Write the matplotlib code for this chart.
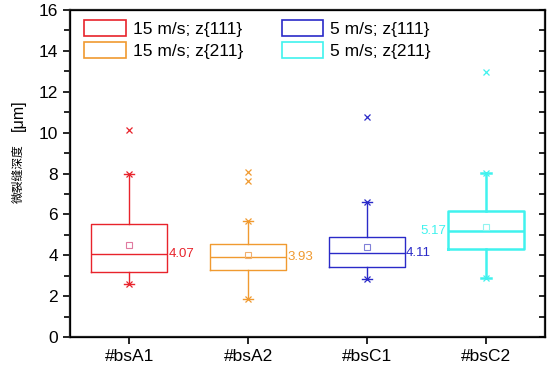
import matplotlib
matplotlib.use("Agg")
import matplotlib.pyplot as plt
from matplotlib.patches import Patch

plt.rcParams['font.family'] = ['Liberation Sans', 'DejaVu Sans']

categories = ['#bsA1', '#bsA2', '#bsC1', '#bsC2']
legend_labels = ['15 m/s; z{111}', '15 m/s; z{211}', '5 m/s; z{111}', '5 m/s; z{211}']
q1 = [3.16, 3.28, 3.41, 4.31]
medians = [4.07, 3.93, 4.11, 5.17]
q3 = [5.53, 4.53, 4.91, 6.18]
whis_lo = [2.61, 1.86, 2.82, 2.89]
whis_hi = [7.97, 5.66, 6.60, 8.02]
means = [4.49, 4.03, 4.40, 5.37]
outliers = [[10.14], [8.06, 7.65], [10.76], [12.96]]

colors = ['#E8232B', '#F09A30', '#2A2AC8', '#40F2EE']
mean_colors = ['#E07AA0', '#F0B070', '#8080D8', '#90F4F0']
line_w = [1.0, 1.0, 1.0, 1.8]

fig = plt.figure(figsize=(5.51, 3.68), dpi=100)
ax = fig.add_axes([70/551, 1-337/368, 475/551, 327/368])

positions = [1, 2, 3, 4]
for i, pos in enumerate(positions):
    st = dict(med=medians[i], q1=q1[i], q3=q3[i], whislo=whis_lo[i], whishi=whis_hi[i],
              mean=means[i], fliers=outliers[i], label=categories[i])
    c = colors[i]
    lw = line_w[i]
    ax.bxp([st], positions=[pos], widths=0.64, capwidths=[0.085], showmeans=True, patch_artist=False,
           boxprops=dict(color=c, linewidth=lw),
           medianprops=dict(color=c, linewidth=lw),
           whiskerprops=dict(color=c, linewidth=lw),
           capprops=dict(color=c, linewidth=lw),
           meanprops=dict(marker='s', markersize=4, markerfacecolor='none',
                          markeredgecolor=mean_colors[i], markeredgewidth=0.8),
           flierprops=dict(marker='x', markersize=5, markeredgecolor=c, markeredgewidth=0.9,
                           linestyle='none'))
    ax.plot([pos, pos], [whis_lo[i], whis_hi[i]], linestyle='none', marker='x', markersize=5,
            markeredgecolor=c, markeredgewidth=0.9)
    if i == 3:
        ax.text(pos - 0.33, medians[i], f'{medians[i]:.2f}', color=c, fontsize=9.5,
                ha='right', va='center')
    else:
        ax.text(pos + 0.33, medians[i], f'{medians[i]:.2f}', color=c, fontsize=9.5,
                ha='left', va='center')

ax.set_xlim(0.5, 4.5)
ax.set_ylim(0, 16)
ax.set_xticks(positions)
ax.set_xticklabels(categories, fontsize=12.5)
ax.set_yticks(range(0, 17, 2))
ax.set_yticks(range(0, 17, 1), minor=True)
ax.tick_params(axis='y', which='both', labelsize=12.5, direction='out', right=False,
               width=1.2)
ax.tick_params(axis='y', which='major', length=5)
ax.tick_params(axis='y', which='minor', length=4)
ax.tick_params(axis='x', direction='out', length=5, width=1.2, top=False)
for sp in ax.spines.values():
    sp.set_linewidth(1.6)
    sp.set_color('#222222')

# right side ticks inward
ax2 = ax.twinx()
ax2.set_ylim(0, 16)
ax2.set_yticks(range(0, 17, 2))
ax2.set_yticks(range(0, 17, 1), minor=True)
ax2.tick_params(axis='y', which='both', direction='in', length=4, width=1.2, labelright=False)

handles = [Patch(facecolor='none', edgecolor=c, linewidth=1.2) for c in colors]
ax.legend(handles, legend_labels, ncol=2, loc='upper left', bbox_to_anchor=(0.012, 0.995),
          frameon=False, fontsize=12.5, handlelength=2.4, handleheight=1.0,
          labelspacing=0.3, columnspacing=2.2, handletextpad=0.4, borderaxespad=0.1)

fig.text(18/551, 1-174/368, '微裂缝深度', rotation=90, ha='center', va='center',
         fontsize=8.5, family=['Noto Sans CJK SC', 'DejaVu Sans'])
fig.text(18/551, 1-115/368, '[μm]', rotation=90, ha='center', va='center', fontsize=11.5)

fig.savefig('out.png', dpi=100)
